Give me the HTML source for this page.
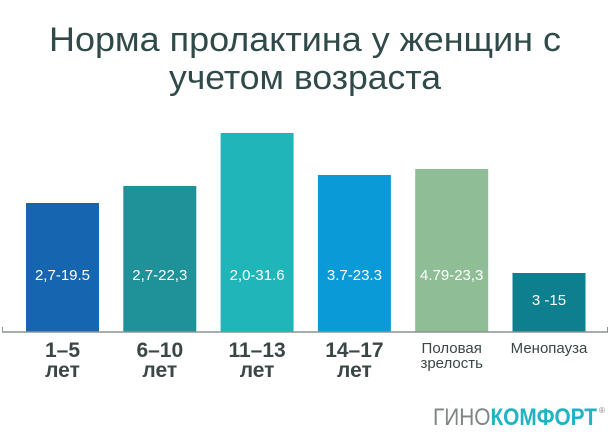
<!DOCTYPE html>
<html><head><meta charset="utf-8"><style>
body{margin:0;width:610px;height:435px;background:#fff;overflow:hidden;font-family:"Liberation Sans","DejaVu Sans",sans-serif}
</style></head><body>
<svg width="610" height="435">
<text x="305" y="51" text-anchor="middle" font-size="34" fill="#2f4a48" textLength="512" lengthAdjust="spacingAndGlyphs">Норма пролактина у женщин с</text>
<text x="305" y="89" text-anchor="middle" font-size="34" fill="#2f4a48" textLength="272" lengthAdjust="spacingAndGlyphs">учетом возраста</text>
<g id="bars"></g>
<line x1="2" y1="332" x2="608" y2="332" stroke="#8a9494" stroke-width="1.5"/>
<line x1="2.5" y1="327" x2="2.5" y2="332" stroke="#8a9494"/>
<line x1="607.5" y1="327" x2="607.5" y2="332" stroke="#8a9494"/>
<text x="433" y="425" font-size="24" textLength="164" lengthAdjust="spacingAndGlyphs"><tspan fill="#7d8585">ГИНО</tspan><tspan fill="#22b3c2" font-weight="bold">КОМФОРТ</tspan></text>
<text x="599" y="413" font-size="8" fill="#7d8585">®</text>
</svg>
<script>
const categories1=["1–5","6–10","11–13","14–17","Половая","Менопауза"];
const categories2=["лет","лет","лет","лет","зрелость",""];
const rangeLabels=["2,7-19.5","2,7-22,3","2,0-31.6","3.7-23.3","4.79-23,3","3 -15"];
const heights=[129,146,199,157,163,59];
const colors=["#1565b0","#1e9199","#20b5b8","#0a9ad8","#8fbe96","#0e7f8f"];
const g=document.getElementById('bars');
const NS="http://www.w3.org/2000/svg";
const x0=26,step=97.3,bw=73,base=332;
function xs(i){return x0+i*step;}
function ys(v){return base-v;}
heights.forEach((h,i)=>{
 const r=document.createElementNS(NS,'rect');
 r.setAttribute('x',xs(i));r.setAttribute('y',ys(h));r.setAttribute('width',bw);r.setAttribute('height',base-ys(h));r.setAttribute('fill',colors[i]);
 
 
 g.appendChild(r);
 const t=document.createElementNS(NS,'text');
 t.setAttribute('x',xs(i)+bw/2);t.setAttribute('y',i==5?305:280);t.setAttribute('text-anchor','middle');t.setAttribute('font-size','15');t.setAttribute('fill','#fff');
 t.textContent=rangeLabels[i];
 
 
 g.appendChild(t);
 const big=i<4;
 const c1=document.createElementNS(NS,'text');
 c1.setAttribute('x',xs(i)+bw/2);c1.setAttribute('y',big?357:353);c1.setAttribute('text-anchor','middle');
 c1.setAttribute('font-size',big?'21':'15');c1.setAttribute('fill','#3b4747');if(big)c1.setAttribute('font-weight','bold');
 c1.textContent=categories1[i];
 
 
 g.appendChild(c1);
 if(categories2[i]){
 const c2=document.createElementNS(NS,'text');
 c2.setAttribute('x',xs(i)+bw/2);c2.setAttribute('y',big?377:368);c2.setAttribute('text-anchor','middle');
 c2.setAttribute('font-size',big?'21':'15');c2.setAttribute('fill','#3b4747');if(big)c2.setAttribute('font-weight','bold');
 c2.textContent=categories2[i];
 
 
 g.appendChild(c2);}
});
</script>
</body></html>
